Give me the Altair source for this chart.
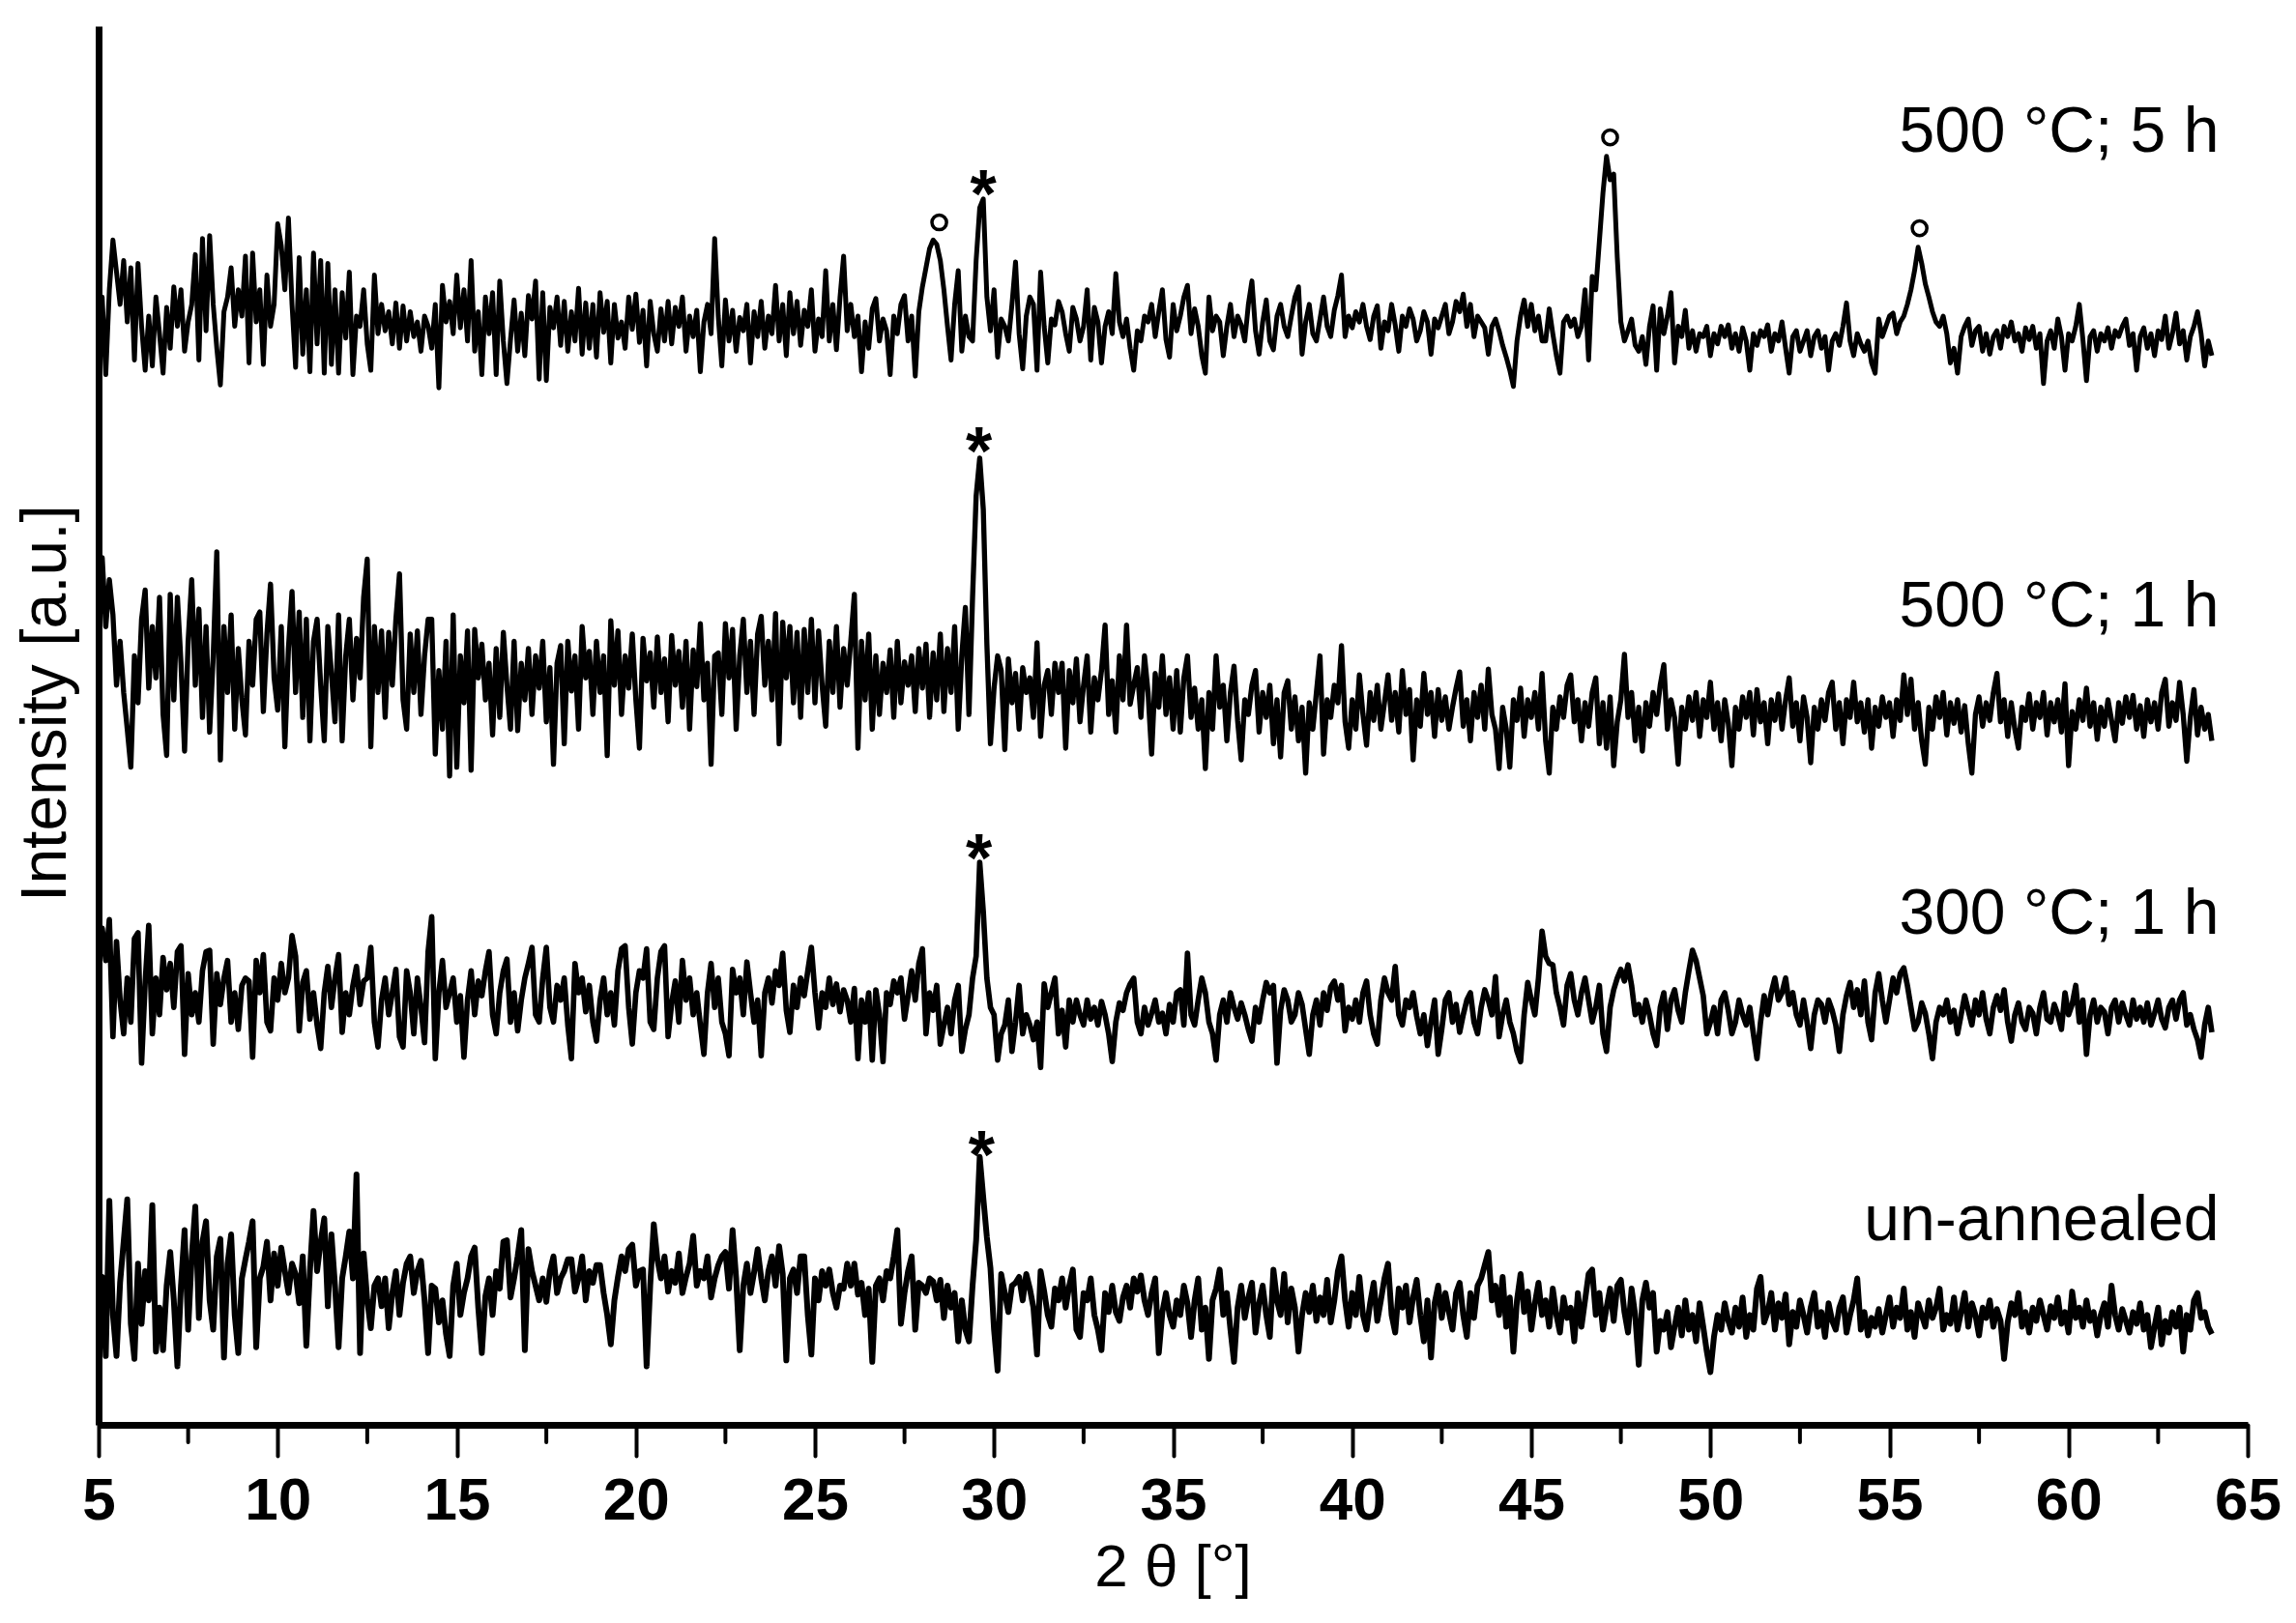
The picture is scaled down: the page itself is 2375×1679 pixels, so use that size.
import altair as alt
import pandas as pd

# 2-theta grid: first angle and step of the scans
THETA_START = 5.0
THETA_STEP = 0.1

# intensities (a.u., traces already offset as drawn), one value per 0.1 deg from 5.0 to 64.0
t_500_5h = [
    735, 765, 712, 770, 804, 782, 760, 790, 748, 785,
    722, 788, 745, 715, 752, 718, 765, 740, 713, 758,
    730, 772, 745, 770, 728, 748, 760, 794, 722, 805,
    742, 807, 760, 730, 705, 755, 765, 785, 745, 770,
    752, 793, 720, 795, 748, 770, 719, 780, 745, 760,
    815, 800, 770, 819, 760, 717, 792, 726, 770, 714,
    795, 733, 790, 713, 788, 719, 770, 713, 768, 737,
    782, 712, 752, 745, 770, 733, 715, 780, 740, 760,
    742, 755, 733, 761, 730, 759, 735, 755, 738, 748,
    728, 752, 745, 730, 760, 703, 773, 748, 762, 740,
    780, 744, 770, 735, 790, 728, 755, 712, 765, 740,
    768, 712, 776, 735, 706, 736, 763, 728, 754, 725,
    766, 750, 776, 709, 768, 708, 758, 744, 765, 732,
    762, 728, 755, 735, 771, 726, 761, 730, 760, 724,
    768, 741, 762, 720, 760, 737, 748, 730, 765, 743,
    767, 734, 756, 718, 762, 740, 728, 757, 735, 762,
    733, 758, 745, 765, 728, 752, 738, 756, 714, 748,
    760, 740, 805, 752, 718, 763, 735, 756, 728, 751,
    742, 760, 720, 755, 738, 762, 730, 752, 740, 773,
    735, 760, 725, 768, 740, 762, 732, 756, 745, 770,
    728, 750, 738, 783, 735, 760, 729, 765, 793, 742,
    760, 738, 752, 714, 748, 730, 757, 764, 735, 750,
    742, 712, 752, 740, 760, 766, 735, 752, 711, 755,
    772, 785, 798, 804, 801, 790, 770, 745, 722, 760,
    783, 728, 752, 738, 735, 790, 826, 832, 765, 742,
    770, 724, 750, 745, 735, 760, 789, 740, 716, 752,
    765, 760, 715, 782, 745, 720, 750, 746, 762, 755,
    740, 728, 758, 750, 735, 745, 770, 722, 758, 748,
    720, 745, 755, 740, 781, 748, 738, 750, 730, 715,
    742, 735, 752, 748, 760, 738, 755, 770, 736, 724,
    760, 742, 752, 765, 773, 740, 757, 745, 725, 713,
    765, 742, 752, 748, 725, 745, 760, 738, 752, 746,
    735, 760, 776, 742, 726, 748, 763, 735, 729, 752,
    760, 745, 738, 752, 765, 772, 726, 748, 760, 740,
    735, 750, 765, 745, 738, 756, 766, 780, 738, 752,
    744, 755, 748, 760, 745, 736, 752, 759, 730, 748,
    742, 760, 746, 728, 752, 745, 757, 750, 735, 742,
    755, 748, 726, 750, 744, 752, 760, 740, 748, 762,
    755, 767, 745, 760, 738, 752, 748, 744, 726, 745,
    750, 742, 732, 724, 715, 704, 735, 752, 763, 745,
    760, 742, 752, 735, 735, 757, 740, 725, 713, 748,
    752, 745, 750, 738, 745, 770, 722, 779, 770, 803,
    836, 861, 845, 849, 792, 748, 735, 742, 750, 732,
    728, 738, 719, 745, 759, 715, 757, 740, 752, 768,
    720, 745, 738, 756, 730, 742, 728, 740, 738, 745,
    725, 740, 733, 745, 738, 746, 730, 740, 728, 744,
    735, 715, 740, 732, 742, 738, 746, 728, 740, 735,
    748, 730, 713, 738, 742, 728, 735, 742, 725, 738,
    742, 730, 738, 715, 735, 740, 732, 745, 761, 735,
    725, 740, 733, 728, 735, 720, 713, 750, 738, 745,
    752, 754, 740, 748, 752, 760, 770, 783, 799, 788,
    774, 765, 755, 748, 745, 752, 740, 720, 730, 713,
    738, 745, 750, 732, 742, 745, 728, 740, 726, 738,
    742, 730, 745, 738, 748, 735, 740, 728, 744, 736,
    745, 730, 740, 706, 735, 742, 730, 750, 738, 715,
    740, 735, 745, 760, 736, 708, 738, 742, 728, 740,
    735, 744, 730, 742, 738, 745, 750, 732, 740, 715,
    738, 744, 730, 740, 725, 742, 736, 752, 730, 740,
    754, 733, 742, 722, 738, 745, 755, 740, 718, 735,
    725,
]

t_500_1h = [
    560, 587, 540, 572, 548, 500, 530, 495, 470, 444,
    520, 488, 545, 565, 498, 540, 505, 560, 480, 452,
    562, 490, 560, 515, 455, 530, 572, 500, 552, 478,
    540, 468, 520, 591, 449, 540, 495, 548, 470, 525,
    490, 466, 530, 500, 545, 550, 482, 535, 569, 505,
    483, 540, 458, 525, 564, 495, 550, 478, 545, 462,
    530, 545, 500, 462, 540, 508, 475, 548, 462, 520,
    545, 490, 532, 505, 560, 586, 458, 540, 495, 537,
    478, 536, 500, 545, 576, 490, 470, 535, 495, 537,
    480, 520, 545, 545, 453, 510, 470, 530, 438, 548,
    444, 520, 488, 537, 442, 538, 505, 528, 490, 515,
    466, 525, 478, 536, 500, 470, 530, 469, 515, 490,
    525, 480, 520, 498, 530, 475, 512, 446, 515, 527,
    460, 530, 496, 520, 470, 540, 505, 523, 480, 530,
    495, 520, 452, 544, 500, 537, 480, 520, 498, 535,
    490, 457, 532, 503, 522, 485, 533, 495, 518, 475,
    534, 500, 523, 485, 530, 470, 524, 499, 542, 490,
    515, 446, 520, 522, 480, 542, 505, 538, 470, 520,
    545, 495, 530, 480, 535, 547, 500, 530, 490, 549,
    460, 543, 505, 540, 488, 536, 478, 538, 495, 545,
    488, 537, 500, 472, 530, 495, 540, 485, 525, 500,
    530, 562, 457, 530, 490, 535, 470, 520, 480, 515,
    495, 524, 478, 530, 488, 516, 500, 520, 482, 525,
    498, 528, 478, 522, 490, 535, 482, 525, 495, 540,
    470, 520, 553, 480, 560, 629, 655, 620, 528, 460,
    498, 520, 510, 456, 518, 488, 508, 470, 512, 495,
    505, 478, 529, 465, 500, 510, 480, 515, 495, 515,
    457, 510, 488, 518, 475, 500, 520, 468, 505, 490,
    510, 541, 480, 503, 468, 520, 490, 541, 487, 500,
    512, 478, 520, 495, 453, 508, 485, 520, 480, 505,
    470, 510, 468, 505, 520, 478, 498, 470, 490, 443,
    495, 470, 520, 485, 500, 462, 495, 513, 476, 449,
    490, 480, 500, 510, 468, 495, 478, 500, 460, 490,
    451, 495, 503, 470, 492, 462, 485, 440, 488, 470,
    495, 520, 453, 490, 478, 500, 488, 527, 475, 457,
    490, 470, 507, 480, 459, 495, 476, 500, 470, 488,
    507, 476, 495, 468, 510, 480, 497, 449, 490, 472,
    508, 480, 495, 465, 497, 476, 492, 470, 485, 498,
    509, 472, 490, 462, 495, 478, 500, 470, 511, 480,
    470, 443, 485, 470, 444, 490, 476, 498, 465, 490,
    478, 495, 470, 508, 462, 440, 485, 470, 492, 478,
    500, 507, 475, 490, 462, 488, 472, 495, 505, 460,
    488, 457, 492, 445, 475, 490, 521, 478, 495, 462,
    485, 455, 488, 472, 495, 480, 500, 514, 470, 490,
    478, 446, 485, 470, 492, 476, 495, 465, 490, 478,
    502, 470, 488, 462, 490, 474, 445, 485, 470, 492,
    478, 495, 466, 497, 475, 488, 460, 490, 476, 494,
    470, 490, 505, 472, 488, 462, 492, 478, 447, 485,
    470, 490, 476, 495, 502, 470, 488, 460, 490, 478,
    502, 475, 488, 468, 490, 457, 485, 472, 492, 478,
    488, 465, 490, 476, 507, 480, 504, 470, 488, 462,
    446, 485, 470, 492, 478, 495, 466, 488, 474, 490,
    468, 486, 460, 440, 480, 492, 472, 488, 476, 495,
    508, 475, 490, 465, 488, 470, 457, 485, 476, 494,
    470, 488, 478, 495, 466, 488, 475, 490, 468, 501,
    445, 482, 470, 490, 476, 498, 472, 488, 463, 485,
    472, 490, 476, 462, 488, 474, 492, 478, 493, 470,
    486, 465, 490, 475, 488, 470, 495, 504, 472, 488,
    476, 502, 480, 448, 478, 497, 466, 485, 470, 480,
    462,
]

t_300_1h = [
    320, 334, 312, 340, 260, 325, 285, 262, 300, 270,
    327, 331, 242, 297, 336, 262, 300, 275, 314, 292,
    310, 280, 318, 322, 248, 303, 275, 290, 270, 305,
    318, 319, 255, 303, 282, 300, 312, 270, 290, 265,
    295, 300, 298, 246, 312, 290, 316, 270, 264, 300,
    285, 310, 290, 300, 329, 315, 264, 297, 305, 272,
    290, 268, 252, 290, 308, 280, 300, 316, 263, 290,
    275, 295, 308, 282, 298, 300, 321, 270, 253, 285,
    300, 275, 290, 306, 260, 253, 305, 290, 262, 300,
    280, 256, 318, 342, 245, 290, 312, 280, 290, 300,
    270, 288, 246, 285, 305, 275, 298, 288, 305, 318,
    275, 262, 290, 305, 313, 270, 290, 264, 285, 300,
    310, 321, 275, 270, 300, 321, 280, 270, 295, 285,
    300, 268, 245, 310, 290, 300, 277, 295, 270, 257,
    285, 300, 275, 290, 268, 305, 320, 322, 280, 255,
    290, 305, 300, 320, 270, 265, 300, 318, 322, 260,
    283, 298, 270, 312, 285, 300, 275, 290, 268, 248,
    290, 310, 280, 300, 270, 262, 247, 306, 290, 300,
    275, 311, 290, 270, 285, 247, 290, 300, 283, 305,
    295, 317, 278, 263, 295, 280, 300, 288, 305, 321,
    290, 266, 290, 280, 300, 282, 296, 277, 292, 285,
    270, 293, 245, 285, 270, 290, 244, 292, 275, 243,
    290, 282, 298, 290, 300, 272, 288, 305, 285, 310,
    320, 262, 290, 278, 295, 255, 268, 280, 262, 285,
    295, 250, 265, 275, 300, 315, 379, 345, 300, 280,
    275, 244, 262, 268, 285, 250, 270, 295, 262, 275,
    268, 258, 270, 239, 296, 280, 290, 300, 262, 278,
    253, 285, 270, 285, 275, 268, 285, 272, 280, 268,
    284, 275, 262, 243, 270, 283, 278, 290, 296, 300,
    270, 262, 280, 268, 276, 285, 270, 276, 262, 282,
    270, 290, 292, 268, 317, 275, 268, 285, 300, 290,
    270, 262, 244, 275, 285, 270, 290, 280, 272, 283,
    275, 265, 257, 280, 270, 285, 297, 290, 295, 242,
    278, 292, 285, 270, 275, 290, 282, 265, 248, 275,
    285, 268, 290, 278, 294, 298, 285, 295, 264, 280,
    272, 285, 270, 290, 298, 275, 262, 255, 285, 300,
    290, 285, 308, 275, 268, 285, 280, 290, 274, 262,
    275, 254, 270, 285, 248, 265, 285, 290, 270, 282,
    263, 275, 285, 290, 270, 262, 280, 292, 285, 275,
    301, 260, 275, 285, 270, 262, 250, 243, 275, 297,
    285, 275, 300, 332, 315, 310, 309, 290, 280, 268,
    295, 303, 285, 275, 290, 300, 285, 270, 280, 295,
    262, 250, 280, 292, 300, 306, 298, 309, 295, 275,
    282, 270, 285, 275, 262, 254, 280, 290, 265, 285,
    292, 278, 270, 290, 305, 319, 312, 300, 288, 262,
    270, 280, 262, 285, 290, 278, 262, 270, 285, 275,
    268, 280, 262, 245, 270, 288, 275, 290, 300, 285,
    290, 300, 282, 290, 275, 268, 285, 270, 252, 275,
    285, 282, 270, 285, 278, 268, 250, 275, 288, 297,
    280, 292, 275, 298, 270, 258, 290, 303, 285, 270,
    285, 300, 290, 303, 307, 295, 280, 265, 270, 283,
    276, 262, 245, 270, 280, 275, 285, 270, 278, 262,
    275, 288, 278, 268, 285, 275, 290, 272, 262, 280,
    288, 278, 292, 270, 257, 275, 283, 270, 265, 280,
    276, 262, 280, 290, 272, 270, 282, 275, 265, 290,
    275, 282, 295, 270, 285, 248, 275, 285, 270, 280,
    277, 262, 280, 285, 270, 283, 275, 268, 285, 272,
    280, 270, 283, 268, 276, 285, 272, 266, 280, 285,
    272, 285, 290, 268, 275, 265, 258, 246, 268, 280,
    263,
]

t_unannealed = [
    85, 96, 42, 148, 70, 42, 92, 120, 149, 64,
    40, 105, 64, 100, 80, 145, 45, 75, 46, 90,
    113, 80, 35, 90, 128, 60, 110, 144, 68, 120,
    134, 80, 60, 110, 122, 41, 105, 125, 70, 44,
    95, 108, 120, 134, 48, 95, 103, 120, 80, 112,
    90, 116, 100, 85, 105, 98, 78, 110, 49, 100,
    141, 100, 120, 136, 76, 125, 90, 48, 95, 110,
    127, 95, 166, 44, 112, 80, 61, 90, 95, 76,
    95, 61, 85, 100, 70, 92, 105, 110, 85, 100,
    107, 80, 44, 90, 88, 65, 80, 57, 42, 90,
    105, 70, 85, 95, 110, 116, 75, 44, 83, 95,
    70, 100, 88, 120, 121, 82, 95, 110, 128, 46,
    115, 100, 90, 80, 95, 79, 100, 110, 85, 95,
    100, 108, 108, 86, 95, 110, 80, 100, 92, 104,
    104, 85, 70, 50, 80, 96, 110, 100, 115, 118,
    90, 100, 101, 35, 90, 132, 108, 95, 110, 86,
    100, 92, 112, 85, 96, 105, 124, 90, 100, 95,
    110, 82, 95, 104, 110, 113, 88, 128, 95, 46,
    90, 105, 85, 99, 115, 95, 80, 100, 110, 90,
    117, 98, 39, 95, 101, 85, 110, 110, 70, 43,
    95, 80, 100, 90, 101, 85, 75, 90, 88, 105,
    90, 105, 84, 92, 70, 88, 38, 90, 95, 80,
    100, 95, 110, 128, 64, 85, 100, 110, 60, 92,
    90, 85, 95, 93, 80, 94, 68, 90, 75, 85,
    52, 80, 60, 52, 90, 121, 178, 150, 123, 102,
    60, 32, 98, 85, 72, 90, 92, 96, 80, 98,
    88, 75, 43, 100, 86, 70, 62, 88, 80, 95,
    75, 90, 101, 60, 55, 85, 80, 95, 70, 60,
    46, 85, 72, 90, 72, 66, 82, 90, 75, 95,
    86, 97, 80, 70, 85, 95, 44, 72, 85, 70,
    62, 80, 70, 90, 78, 55, 80, 95, 60, 75,
    40, 80, 88, 101, 70, 85, 60, 38, 75, 90,
    68, 82, 92, 58, 78, 90, 70, 55, 101, 80,
    70, 98, 65, 88, 75, 45, 70, 85, 72, 90,
    66, 82, 70, 94, 65, 80, 100, 110, 80, 62,
    85, 70, 96, 70, 60, 78, 92, 66, 80, 95,
    105, 70, 58, 88, 75, 90, 65, 82, 94, 70,
    52, 80, 41, 78, 90, 68, 85, 72, 60, 85,
    92, 70, 55, 85, 68, 90, 95, 104, 113, 80,
    90, 70, 96, 62, 82, 45, 80, 98, 72, 86,
    60, 78, 92, 70, 80, 62, 88, 70, 58, 82,
    68, 75, 52, 85, 62, 80, 98, 101, 70, 85,
    60, 75, 88, 66, 90, 94, 72, 58, 88, 70,
    36, 80, 92, 75, 85, 45, 66, 60, 72, 48,
    62, 75, 56, 80, 60, 70, 52, 78, 62, 45,
    31, 55, 70, 60, 78, 66, 58, 75, 62, 82,
    55, 70, 60, 88, 96, 65, 72, 85, 60, 78,
    68, 84, 50, 72, 62, 80, 70, 58, 75, 85,
    62, 72, 55, 78, 66, 60, 75, 82, 58, 70,
    80, 95, 60, 72, 56, 68, 62, 74, 58, 70,
    82, 62, 75, 68, 88, 60, 72, 55, 78, 70,
    62, 80, 68, 75, 88, 60, 70, 64, 82, 60,
    72, 85, 62, 78, 70, 56, 75, 68, 80, 62,
    74, 66, 40, 65, 78, 70, 85, 62, 72, 58,
    75, 66, 80, 70, 60, 76, 68, 82, 64, 72,
    58, 86, 68, 75, 62, 80, 66, 72, 56, 70,
    78, 62, 90, 70, 60, 74, 66, 58, 72, 64,
    78, 60, 70, 48, 62, 75, 50, 66, 58, 72,
    62, 75, 45, 70, 60, 80, 85, 68, 72, 62,
    57,
]

series_names = ["500 °C; 5 h", "500 °C; 1 h", "300 °C; 1 h", "un-annealed"]
series_values = [t_500_5h, t_500_1h, t_300_1h, t_unannealed]

# series labels (right aligned, baseline position)
label_theta = [64.2, 64.2, 64.2, 64.2]
label_intensity = [864, 540, 330, 121]

# reflection markers
star_theta = [29.70, 29.58, 29.58, 29.65]
star_intensity = [846, 670, 392, 190]
circle_theta = [28.47, 47.2, 55.84]
circle_intensity = [816, 874, 812]

major_ticks = [5, 10, 15, 20, 25, 30, 35, 40, 45, 50, 55, 60, 65]
minor_ticks = [7.5, 12.5, 17.5, 22.5, 27.5, 32.5, 37.5, 42.5, 47.5, 52.5, 57.5, 62.5]

rows = []
for name, vals in zip(series_names, series_values):
    for i, v in enumerate(vals):
        rows.append({"theta": round(THETA_START + THETA_STEP * i, 2), "intensity": v, "series": name})
df = pd.DataFrame(rows)

labels_df = pd.DataFrame({"theta": label_theta, "intensity": label_intensity, "text": series_names})
stars_df = pd.DataFrame({"theta": star_theta, "intensity": star_intensity})
circles_df = pd.DataFrame({"theta": circle_theta, "intensity": circle_intensity})
minor_df = pd.DataFrame({"theta": minor_ticks})

W, H = 2223, 1447
FONT = "Liberation Sans, Arial, Helvetica, sans-serif"

x_enc = alt.X(
    "theta:Q",
    scale=alt.Scale(domain=[5, 65], nice=False, zero=False),
    axis=alt.Axis(
        values=major_ticks,
        title="2 θ [°]",
        grid=False,
        domainWidth=7,
        domainColor="black",
        tickColor="black",
        tickWidth=4,
        tickSize=32,
        tickCap="round",
        labelFont=FONT,
        labelFontSize=62,
        labelFontWeight="bold",
        labelColor="black",
        labelPadding=16,
        labelFlush=False,
        labelOverlap=False,
        titleFont=FONT,
        titleFontSize=62,
        titleFontWeight="normal",
        titleColor="black",
        titleX=1111,
        titleY=166,
        titleBaseline="alphabetic",
        titleAlign="center",
    ),
)
y_enc = alt.Y(
    "intensity:Q",
    scale=alt.Scale(domain=[-5, 950], nice=False, zero=False),
    axis=alt.Axis(
        title="Intensity [a.u.]",
        labels=False,
        ticks=False,
        grid=False,
        domainWidth=7,
        domainColor="black",
        titleFont=FONT,
        titleFontSize=66,
        titleFontWeight="normal",
        titleColor="black",
        titleAngle=270,
        titleX=-55,
        titleY=700,
        titleAlign="center",
        titleBaseline="middle",
    ),
)

lines = alt.Chart(df).mark_line(color="black", strokeJoin="round").encode(
    x=x_enc,
    y=y_enc,
    detail="series:N",
    strokeWidth=alt.StrokeWidth(
        "series:N",
        scale=alt.Scale(domain=series_names, range=[5, 6, 5, 5]),
        legend=None,
    ),
)

labels = alt.Chart(labels_df).mark_text(
    align="right", baseline="alphabetic", fontSize=66, font=FONT, color="black"
).encode(x="theta:Q", y="intensity:Q", text="text:N")

stars = alt.Chart(stars_df).mark_text(
    text="*", align="center", baseline="alphabetic", fontSize=70, fontWeight="bold",
    font=FONT, color="black", dy=40
).encode(x="theta:Q", y="intensity:Q")

circles = alt.Chart(circles_df).mark_point(
    shape="circle", filled=False, size=230, strokeWidth=3.5, color="black", opacity=1
).encode(x="theta:Q", y="intensity:Q")

minor = alt.Chart(minor_df).mark_rule(color="black", strokeWidth=4, strokeCap="round").encode(
    x="theta:Q", y=alt.value(H), y2=alt.value(H + 18)
)

chart = (
    alt.layer(lines, labels, stars, circles, minor)
    .properties(
        width=W,
        height=H,
        padding={"left": 94, "top": 19, "right": 40, "bottom": 200},
        autosize=alt.AutoSizeParams(type="none"),
        background="white",
    )
    .configure_view(stroke=None)
)

chart.save("out.html", embed_options={"renderer": "svg", "actions": False})
